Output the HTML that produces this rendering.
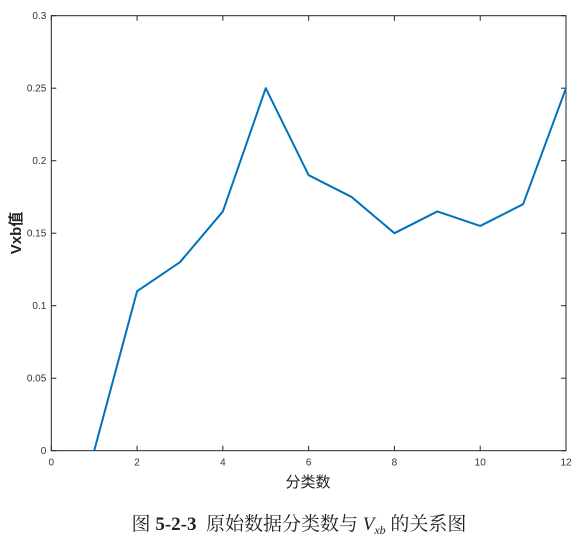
<!DOCTYPE html>
<html><head><meta charset="utf-8"><style>
body{margin:0;background:#fff;}
svg text{font-family:"Liberation Sans",sans-serif;}
</style></head><body>
<svg width="583" height="537" xmlns="http://www.w3.org/2000/svg">
<g id="axes"></g>
<text x="308" y="487" font-size="15" text-anchor="middle" fill="#222" style="font-family:'Liberation Sans','Noto Sans CJK SC',sans-serif">分类数</text>
<text transform="translate(21,233) rotate(-90)" font-size="15" font-weight="bold" text-anchor="middle" fill="#222" style="font-family:'Liberation Sans','Noto Sans CJK SC',sans-serif">Vxb值</text>
<text x="299" y="530" font-size="19" text-anchor="middle" fill="#222" style="font-family:'Liberation Serif','Noto Serif CJK SC',serif">图&#160;<tspan font-weight="bold">5-2-3</tspan>&#160;&#160;原始数据分类数与<tspan font-style="italic">&#160;V</tspan><tspan font-style="italic" font-size="12" dy="4">xb</tspan><tspan dy="-4">&#160;的关系图</tspan></text>
</svg>
<script>
const xs=[1,2,3,4,5,6,7,8,9,10,11,12];
const vals=[0,0.11,0.13,0.165,0.25,0.19,0.175,0.15,0.165,0.155,0.17,0.25];
const xTicks=[0,2,4,6,8,10,12];
const yTicks=[0,0.05,0.1,0.15,0.2,0.25,0.3];
const L=51.3,R=566,T=15.7,B=450.7;
const sx=v=>L+(v-0)/12*(R-L);
const sy=v=>B-(v/0.3)*(B-T);
const NS="http://www.w3.org/2000/svg";
const g=document.getElementById('axes');
function mk(t,a){const e=document.createElementNS(NS,t);for(const k in a)e.setAttribute(k,a[k]);g.appendChild(e);return e;}
const box=mk('rect',{x:L,y:T,width:R-L,height:B-T,fill:'none',stroke:'#262626','stroke-width':1});


xTicks.forEach(v=>{
 const x=sx(v);
 const t1=mk('line',{x1:x,x2:x,y1:B,y2:B-5,stroke:'#262626'});
 
 
 const t2=mk('line',{x1:x,x2:x,y1:T,y2:T+5,stroke:'#262626'});
 
 
 const tx=mk('text',{x:x,y:B+15,'font-size':10,'text-anchor':'middle',fill:'#333'});
 tx.textContent=String(v);
 
 
});
yTicks.forEach(v=>{
 const y=sy(v);
 const t1=mk('line',{x1:L,x2:L+5,y1:y,y2:y,stroke:'#262626'});
 
 
 const t2=mk('line',{x1:R,x2:R-5,y1:y,y2:y,stroke:'#262626'});
 
 
 const tx=mk('text',{x:L-5,y:y+3.5,'font-size':10,'text-anchor':'end',fill:'#333'});
 tx.textContent=String(v);
 
 
});
const line=mk('polyline',{points:xs.map((x,i)=>sx(x)+','+sy(vals[i])).join(' '),fill:'none',stroke:'#0072BD','stroke-width':2,'stroke-linejoin':'round'});


</script>
</body></html>
